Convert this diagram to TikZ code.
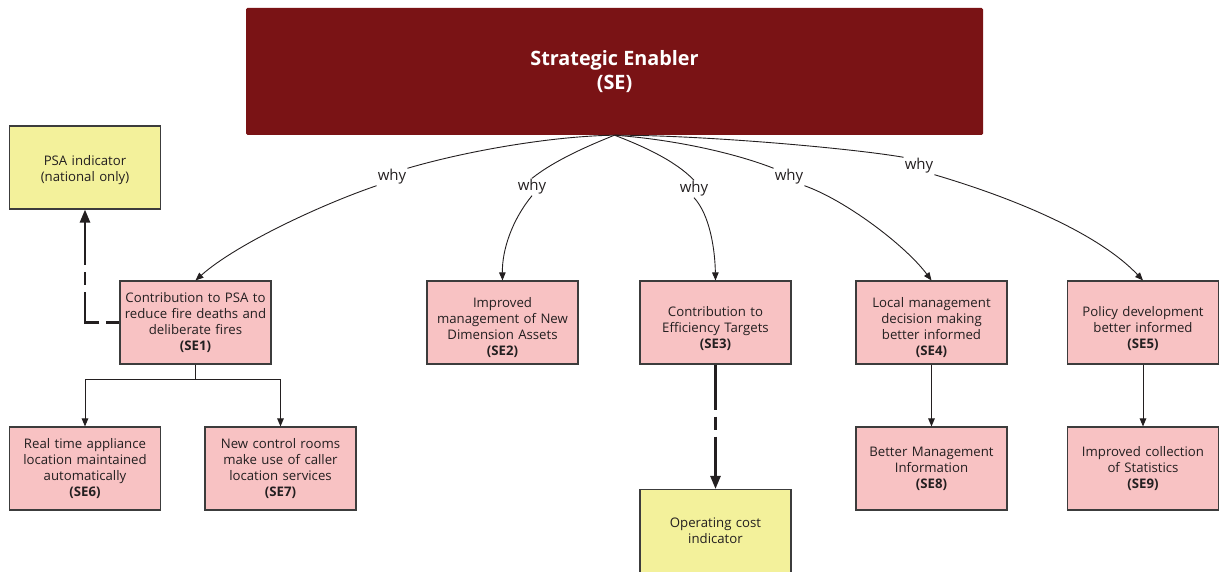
\documentclass[tikz,border=0pt]{standalone}
\usepackage{fontspec}
\setmainfont{Open Sans}
\usetikzlibrary{arrows.meta}
\definecolor{sered}{HTML}{7A1315}
\definecolor{pinkbox}{HTML}{F8C2C3}
\definecolor{yelbox}{HTML}{F3F19B}
\definecolor{edgec}{HTML}{3C3C3C}
\definecolor{txt}{HTML}{231F20}
\begin{document}
\begin{tikzpicture}[x=1pt,y=-1pt,
  box/.style={draw=edgec, line width=1.1pt, minimum width=151pt, minimum height=83pt,
    align=center, text=txt, font=\fontsize{13.2}{16}\selectfont, inner sep=1pt, text width=149pt},
  pinkb/.style={box, fill=pinkbox},
  yelb/.style={box, fill=yelbox},
  lowtext/.style={execute at begin node={\rule{0pt}{#1}}},
  whyl/.style={font=\fontsize{15}{16}\selectfont, text=txt, inner sep=1pt},
  curve/.style={draw=txt, line width=0.9pt},
  tip/.style={-{Triangle[length=8pt,width=6.5pt]}},
  thickdash/.style={draw=txt, line width=2.5pt, -{Triangle[length=13pt,width=10pt]}},
  thinline/.style={draw=txt, line width=1pt}]
\useasboundingbox (0,0) rectangle (1219,572);

\node[fill=sered, minimum width=737pt, minimum height=127pt, rounded corners=1.5pt,
  text=white, font=\bfseries\fontsize{19.8}{24}\selectfont, align=center, inner sep=0pt]
  (se) at (614.5,71.5) {Strategic Enabler\\(SE)};

\node[yelb, lowtext=14.5pt] (psa) at (85,167.5) {PSA indicator\\(national only)};
\node[pinkb] (se1) at (195.5,322.5) {Contribution to PSA to\\reduce fire deaths and\\deliberate fires\\\textbf{(SE1)}};
\node[pinkb, lowtext=20.5pt] (se2) at (502.5,322.5) {Improved\\management of New\\Dimension Assets\\\textbf{(SE2)}};
\node[pinkb, lowtext=22pt] (se3) at (715.5,322.5) {Contribution to\\Efficiency Targets\\\textbf{(SE3)}};
\node[pinkb, lowtext=20.5pt] (se4) at (931.5,322.5) {Local management\\decision making\\better informed\\\textbf{(SE4)}};
\node[pinkb, lowtext=22pt] (se5) at (1143,322.5) {Policy development\\better informed\\\textbf{(SE5)}};
\node[pinkb] (se6) at (85,468.5) {Real time appliance\\location maintained\\automatically\\\textbf{(SE6)}};
\node[pinkb] (se7) at (280.5,468.5) {New control rooms\\make use of caller\\location services\\\textbf{(SE7)}};
\node[pinkb] (se8) at (931.5,468.5) {Better Management\\Information\\\textbf{(SE8)}};
\node[pinkb] (se9) at (1143,468.5) {Improved collection\\of Statistics\\\textbf{(SE9)}};
\node[yelb] (opc) at (715.5,531) {Operating cost\\indicator};

\node[whyl] (w1) at (392,177) {why};
\node[whyl] (w2) at (532,187) {why};
\node[whyl] (w3) at (694,189) {why};
\node[whyl] (w4) at (789,177) {why};
\node[whyl] (w5) at (919,166) {why};

\draw[curve] (se.south) .. controls (555,136) and (470,150) .. (w1.north east);
\draw[curve,tip] (w1.south west) .. controls (320,205) and (235,245) .. (se1.north);
\draw[curve] (se.south) .. controls (590,145) and (555,160) .. (w2.north);
\draw[curve,tip] (w2.south) .. controls (512,220) and (502,250) .. (se2.north);
\draw[curve] (se.south) .. controls (640,145) and (675,160) .. (w3.north);
\draw[curve,tip] (w3.south) .. controls (710,215) and (715,250) .. (se3.north);
\draw[curve] (se.south) .. controls (680,140) and (740,155) .. (w4.north west);
\draw[curve,tip] (w4.south east) .. controls (845,200) and (905,245) .. (se4.north);
\draw[curve] (se.south) .. controls (700,135) and (850,148) .. (w5.north west);
\draw[curve,tip] (w5.south east) .. controls (1020,200) and (1100,235) .. (se5.north);

\draw[thickdash, dash pattern=on 13pt off 7pt on 45pt off 7pt] (se1.west) -| (psa.south);
\draw[thickdash, dash pattern=on 45pt off 7pt on 13pt off 7pt] (se3.south) -- (opc.north);

\draw[thinline] (se1.south) -- ++(0,15) coordinate (j);
\draw[thinline,tip] (j) -| (se6.north);
\draw[thinline,tip] (j) -| (se7.north);
\draw[thinline,tip] (se4.south) -- (se8.north);
\draw[thinline,tip] (se5.south) -- (se9.north);
\end{tikzpicture}
\end{document}
